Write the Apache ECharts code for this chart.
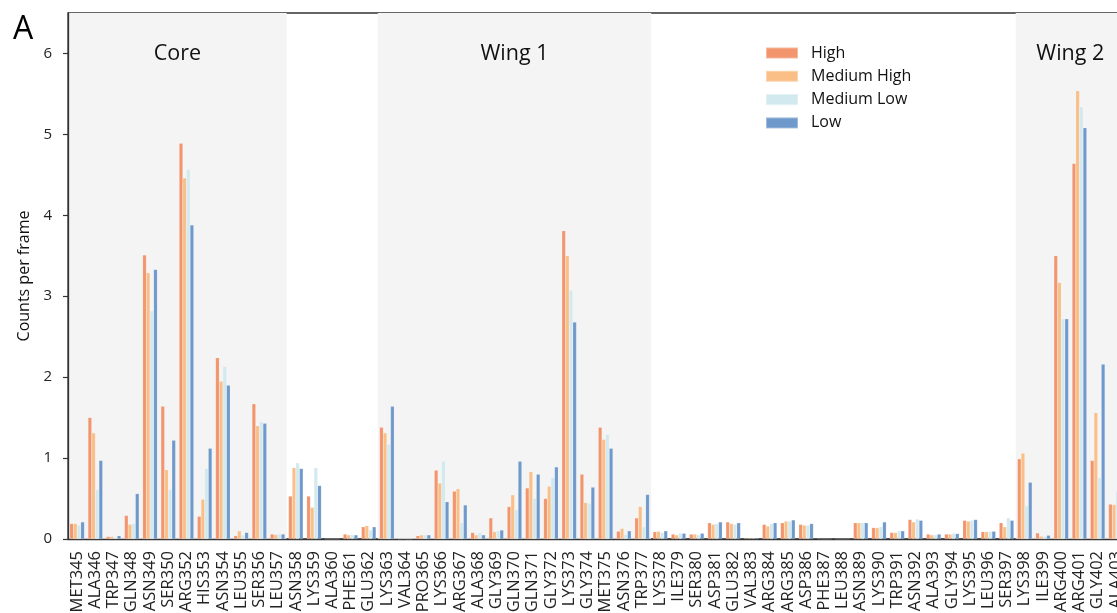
<!DOCTYPE html>
<html>
<head>
<meta charset="utf-8">
<script src="https://cdn.jsdelivr.net/npm/echarts@6/dist/echarts.min.js"></script>
<style>
html,body{margin:0;padding:0;background:#fff;overflow:hidden;}
#chart{width:1117px;height:613px;}
</style>
</head>
<body>
<div id="chart"></div>
<script>
const categories = ['MET345','ALA346','TRP347','GLN348','ASN349','SER350','ARG352','HIS353','ASN354','LEU355','SER356','LEU357','ASN358','LYS359','ALA360','PHE361','GLU362','LYS363','VAL364','PRO365','LYS366','ARG367','ALA368','GLY369','GLN370','GLN371','GLY372','LYS373','GLY374','MET375','ASN376','TRP377','LYS378','ILE379','SER380','ASP381','GLU382','VAL383','ARG384','ARG385','ASP386','PHE387','LEU388','ASN389','LYS390','TRP391','ASN392','ALA393','GLY394','LYS395','LEU396','SER397','LYS398','ILE399','ARG400','ARG401','GLY402','ALA403'];

const high = [0.19,1.50,0.03,0.29,3.51,1.64,4.89,0.28,2.24,0.04,1.67,0.06,0.53,0.53,0,0.06,0.15,1.38,0,0.04,0.85,0.59,0.08,0.26,0.40,0.63,0.50,3.81,0.80,1.38,0.095,0.26,0.09,0.06,0.06,0.20,0.21,0.01,0.18,0.20,0.18,0.005,0,0.20,0.14,0.08,0.24,0.06,0.06,0.23,0.09,0.20,0.99,0.074,3.50,4.64,0.97,0.43];
const mediumHigh = [0.19,1.31,0.03,0.18,3.29,0.855,4.46,0.49,1.95,0.10,1.40,0.054,0.88,0.39,0,0.05,0.165,1.31,0.01,0.05,0.69,0.62,0.05,0.09,0.545,0.83,0.65,3.50,0.45,1.23,0.13,0.40,0.095,0.05,0.06,0.18,0.19,0.01,0.16,0.22,0.17,0,0,0.20,0.14,0.08,0.21,0.05,0.06,0.22,0.09,0.15,1.06,0.033,3.17,5.54,1.56,0.425];
const mediumLow = [0.17,0.61,0.02,0.19,2.82,0.61,4.57,0.87,2.13,0.05,1.45,0.06,0.94,0.88,0,0.05,0.11,1.17,0,0.05,0.96,0.20,0.08,0.10,0.36,0.50,0.76,3.075,0.44,1.29,0.054,0.15,0.08,0.07,0.05,0.19,0.18,0.01,0.19,0.22,0.17,0,0,0.20,0.15,0.10,0.245,0.05,0.07,0.23,0.095,0.26,0.41,0.03,2.72,5.34,0.755,0.59];
const low = [0.21,0.97,0.04,0.56,3.33,1.22,3.88,1.12,1.90,0.08,1.43,0.06,0.87,0.66,0,0.05,0.15,1.64,0,0.05,0.46,0.42,0.05,0.11,0.96,0.80,0.89,2.68,0.64,1.12,0.10,0.55,0.10,0.07,0.07,0.21,0.20,0.012,0.20,0.235,0.19,0,0,0.20,0.21,0.10,0.23,0.06,0.066,0.24,0.095,0.23,0.70,0.045,2.72,5.08,2.16,0.6];

const seriesNames = ['High','Medium High','Medium Low','Low'];
const yTicks = [0,1,2,3,4,5,6];
const regions = [
  {name:'Core', from:'MET345', to:'LEU357'},
  {name:'Wing 1', from:'LYS363', to:'TRP377'},
  {name:'Wing 2', from:'LYS398', to:'ALA403'}
];

const colors = ['#F2956D','#F9BF87','#D2E9F0','#6F99CB'];
const YMAX = 6.5;
const FONT = '"Open Sans", sans-serif';

const chart = echarts.init(document.getElementById('chart'));
const values = [high, mediumHigh, mediumLow, low];

const regionData = regions.map(r => [categories.indexOf(r.from), categories.indexOf(r.to)]);

const option = {
  animation: false,
  backgroundColor: '#fff',
  title: {
    text: 'A', left: 8, top: 9,
    textStyle: {fontSize: 32, fontWeight: 'normal', fontFamily: FONT, color: '#000'}
  },
  legend: {
    data: seriesNames,
    orient: 'vertical',
    left: 760, top: 40,
    itemWidth: 32, itemHeight: 11, itemGap: 7.3,
    icon: 'rect',
    textStyle: {fontSize: 16, fontFamily: FONT, color: '#111', lineHeight: 16, padding: [0,0,0,8]}
  },
  grid: {
    left: 68, right: -8, top: 13, bottom: 74,
    outerBoundsMode: 'none',
    containLabel: false,
    show: true, borderColor: '#333', borderWidth: 1.3, backgroundColor: 'transparent'
  },
  xAxis: {
    type: 'category',
    data: categories,
    axisLine: {lineStyle: {color: '#333', width: 1.3}},
    axisTick: {alignWithLabel: true, length: 5, lineStyle: {color: '#333', width: 1.2}},
    axisLabel: {interval: 0, rotate: 90, fontSize: 16.5, fontFamily: FONT, color: '#222', margin: 12, hideOverlap: false}
  },
  yAxis: {
    type: 'value', min: 0, max: YMAX, interval: 1,
    name: 'Counts per frame', nameLocation: 'middle', nameGap: 32,
    nameTextStyle: {fontSize: 16, fontFamily: FONT, color: '#111'},
    splitLine: {show: false},
    axisLine: {show: true, lineStyle: {color: '#333', width: 1.3}},
    axisTick: {show: true, length: 5, customValues: yTicks, lineStyle: {color: '#333', width: 1.2}},
    axisLabel: {fontSize: 15, fontFamily: FONT, color: '#222', margin: 16, customValues: yTicks}
  },
  series: [
    {
      type: 'custom',
      name: 'regions',
      silent: true,
      z: 0,
      data: regionData,
      encode: {x: 0, y: 1},
      clip: false,
      renderItem: function (params, api) {
        const r = regions[params.dataIndex];
        const s = api.value(0), e = api.value(1);
        const bw = api.size([1, 0])[0];
        const pTop = api.coord([s, YMAX]);
        const pBot = api.coord([s, 0]);
        const pEnd = api.coord([e, 0]);
        const x0 = pTop[0] - bw / 2;
        const x1 = pEnd[0] + bw / 2;
        return {
          type: 'group',
          children: [
            {type: 'rect', shape: {x: x0, y: pTop[1], width: x1 - x0, height: pBot[1] - pTop[1]},
             style: {fill: '#F4F4F4'}},
            {type: 'text', x: (x0 + x1) / 2, y: pTop[1] + 41,
             style: {text: r.name, fontSize: 21.5, fontFamily: FONT, fill: '#111', align: 'center', verticalAlign: 'middle'}}
          ]
        };
      }
    }
  ].concat(seriesNames.map((n, i) => ({
    type: 'bar',
    name: n,
    data: values[i],
    z: 2,
    barGap: '0%',
    barCategoryGap: '20%',
    itemStyle: {color: colors[i], borderColor: 'rgba(255,255,255,0.35)', borderWidth: 0.4}
  })))
};
chart.setOption(option);
</script>
</body>
</html>
